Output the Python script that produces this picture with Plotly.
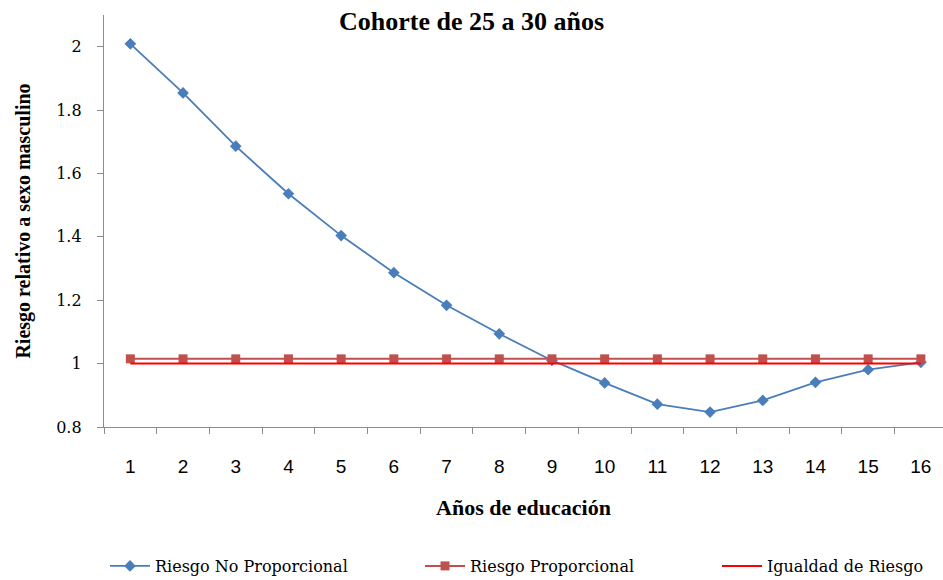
import plotly.graph_objects as go

categories = [str(i) for i in range(1, 17)]
riesgo_no_prop = [2.009, 1.854, 1.686, 1.536, 1.404, 1.287, 1.184, 1.094,
                  1.010, 0.939, 0.872, 0.847, 0.884, 0.941, 0.981, 1.004]
riesgo_prop = [1.015] * 16
igualdad = [1.0] * 16

serif_b = "Liberation Serif"
serif_r = "DejaVu Serif"
fig = go.Figure()
fig.add_trace(go.Scatter(x=categories, y=riesgo_no_prop, mode="lines+markers",
                         name="Riesgo No Proporcional", legend="legend",
                         line=dict(color="#4a7ebb", width=1.8),
                         marker=dict(symbol="diamond", size=9, color="#4a7ebb")))
fig.add_trace(go.Scatter(x=categories, y=riesgo_prop, mode="lines+markers",
                         name="Riesgo Proporcional", legend="legend2",
                         line=dict(color="#c0504d", width=2),
                         marker=dict(symbol="square", size=9, color="#c0504d")))
fig.add_trace(go.Scatter(x=categories, y=igualdad, mode="lines",
                         name="Igualdad de Riesgo", legend="legend3",
                         line=dict(color="#ff0000", width=2)))

plot_l, plot_w = 104, 839
def px(xp):
    return (xp - plot_l) / plot_w

leg_y = (427 - 566) / 412

def leg(xp):
    return dict(orientation="h", x=px(xp), xanchor="left", y=leg_y, yanchor="middle",
                font=dict(family=serif_r, size=16, color="black"),
                itemwidth=40, bgcolor="rgba(0,0,0,0)")

fig.update_layout(
    width=943, height=580, showlegend=True,
    margin=dict(l=104, r=0, t=15, b=153, autoexpand=False),
    paper_bgcolor="white", plot_bgcolor="white",
    title=dict(text="<b>Cohorte de 25 a 30 años</b>", x=0.5, xanchor="center",
               y=1 - 21/580, yanchor="middle",
               font=dict(family=serif_b, size=26, color="black")),
    xaxis=dict(type="category", range=[-0.5, 15.42], tickson="boundaries",
               showline=True, linecolor="#8c8c8c", linewidth=1.3,
               ticks="outside", ticklen=6, tickcolor="#8c8c8c",
               showgrid=False, zeroline=False,
               tickfont=dict(family="Liberation Sans", size=19, color="black"),
               ticklabelstandoff=22,
               title=dict(text="<b>Años de educación</b>", standoff=23,
                          font=dict(family=serif_b, size=22, color="black"))),
    yaxis=dict(range=[0.8, 2.1], dtick=0.2, tick0=0.8,
               showline=True, linecolor="#8c8c8c", linewidth=1.3,
               ticks="outside", ticklen=6, tickcolor="#8c8c8c",
               showgrid=False, zeroline=False,
               tickfont=dict(family=serif_r, size=16, color="black"),
               ticklabelstandoff=12,
               title=dict(text="<b>Riesgo relativo a sexo masculino</b>", standoff=20,
                          font=dict(family=serif_b, size=20, color="black"))),
    legend=leg(105),
    legend2=leg(420),
    legend3=leg(717),
)

fig.write_html("out.html")
